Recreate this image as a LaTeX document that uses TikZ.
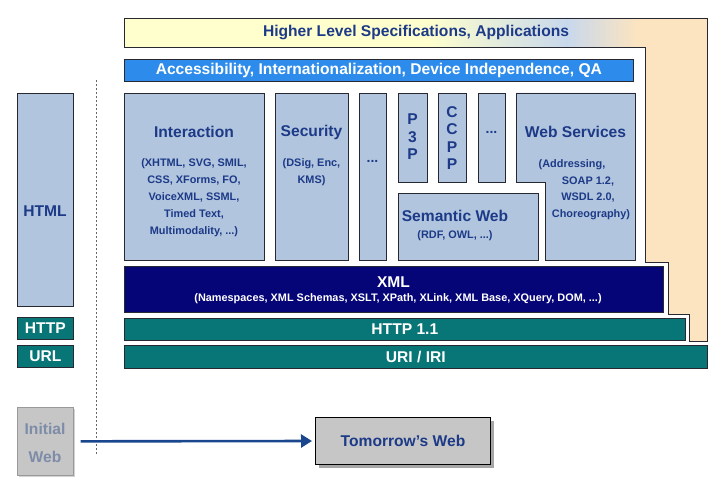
\documentclass[tikz,border=0pt]{standalone}
\usepackage{fontspec}
\setmainfont{Liberation Sans}
\usetikzlibrary{shadows,arrows.meta}
\definecolor{steel}{RGB}{178,197,222}
\definecolor{dblue}{RGB}{28,58,135}
\definecolor{edgec}{RGB}{40,40,50}
\definecolor{accb}{RGB}{45,140,235}
\definecolor{navy2}{RGB}{5,5,120}
\definecolor{teal2}{RGB}{8,118,118}
\definecolor{peach}{RGB}{252,228,192}
\definecolor{yel}{RGB}{255,255,205}
\definecolor{lblue}{RGB}{200,216,236}
\definecolor{gray1}{RGB}{198,198,198}
\definecolor{gtext}{RGB}{125,140,168}
\definecolor{arrowc}{RGB}{25,70,140}
\pgfdeclarehorizontalshading{topgrad}{100bp}{color(0bp)=(yel); color(25bp)=(yel); color(51bp)=(yel); color(63bp)=(lblue); color(69bp)=(peach); color(100bp)=(peach)}
\tikzset{
  lbox/.style={draw=edgec, fill=steel, line width=0.7pt, inner sep=0pt, anchor=north west},
  tbox/.style={draw=edgec, fill=teal2, line width=0.7pt, inner sep=0pt, anchor=north west},
  ttl/.style={text=dblue, font=\fontsize{15.6}{17}\selectfont\bfseries, inner sep=0pt},
  sub/.style={text=dblue, font=\fontsize{10.9}{17}\selectfont\bfseries, align=center, inner sep=0pt},
  wttl/.style={text=white, font=\fontsize{15.6}{17}\selectfont\bfseries, inner sep=0pt},
  wsub/.style={text=white, font=\fontsize{10.9}{13}\selectfont\bfseries, inner sep=0pt},
  vlet/.style={text=dblue, font=\fontsize{15.6}{17.5}\selectfont\bfseries, align=center, inner sep=0pt},
  dots/.style={text=dblue, font=\fontsize{14}{14}\selectfont\bfseries, inner sep=0pt},
}
\begin{document}
\begin{tikzpicture}[x=1pt,y=-1pt]
\useasboundingbox (0,0) rectangle (719,500);
% top L-shaped band
\shade[shading=topgrad, draw=edgec, line width=0.8pt]
  (124,18) -- (707,18) -- (707,341) -- (689,341) -- (689,314) -- (668,314) -- (668,262) -- (645,262) -- (645,47) -- (124,47) -- cycle;
\node[wttl, text=dblue] (hls) at (416,33) {Higher Level Specifications, Applications};
% accessibility bar
\node[draw=edgec, fill=accb, line width=0.7pt, inner sep=0pt, anchor=north west, minimum width=509pt, minimum height=22pt] (acc) at (124,59) {};
\node[wttl] (acct) at (acc.center) {Accessibility, Internationalization, Device Independence, QA};
% row of boxes
\node[lbox, minimum width=140pt, minimum height=167pt] (inter) at (124,93) {};
\node[ttl] (intert) at (194,132) {Interaction};
\node[sub] (inters) at (194,197.5) {(XHTML, SVG, SMIL,\\CSS, XForms, FO,\\VoiceXML, SSML,\\Timed Text,\\Multimodality, ...)};
\node[lbox, minimum width=73pt, minimum height=167pt] (sec) at (275,93) {};
\node[ttl] (sect) at (311.5,132) {Security};
\node[sub] (secs) at (311.5,172) {(DSig, Enc,\\KMS)};
\node[lbox, minimum width=27pt, minimum height=167pt] (dots1) at (359,93) {};
\node[dots] (dots1t) at (372.5,161) {...};
\node[lbox, minimum width=29pt, minimum height=89pt] (p3p) at (398,93) {};
\node[vlet] (p3pt) at (412.5,137) {P\\3\\P};
\node[lbox, minimum width=28pt, minimum height=89pt] (ccpp) at (438,93) {};
\node[vlet] (ccppt) at (452,138) {C\\C\\P\\P};
\node[lbox, minimum width=27pt, minimum height=89pt] (dots2) at (478,93) {};
\node[dots] (dots2t) at (491.5,132) {...};
\node[lbox, minimum width=140pt, minimum height=67pt] (sem) at (398,193) {};
\node[ttl] (semt) at (455,216) {Semantic Web};
\node[sub] (sems) at (455,236) {(RDF, OWL, ...)};
\draw[draw=edgec, fill=steel, line width=0.7pt] (516,93) -- (635,93) -- (635,260) -- (545,260) -- (545,182) -- (516,182) -- cycle;
\node[ttl] (wst) at (575.5,132) {Web Services};
\node[sub] (ws1) at (572,165) {(Addressing,};
\node[sub] (ws2) at (588,181.5) {SOAP 1.2,};
\node[sub] (ws3) at (588,198) {WSDL 2.0,};
\node[sub] (ws4) at (591,214.5) {Choreography)};
% XML, HTTP, URI
\node[draw=edgec, fill=navy2, line width=0.7pt, inner sep=0pt, anchor=north west, minimum width=539pt, minimum height=46pt] (xml) at (124,266) {};
\node[wttl] (xmlt) at (393.5,282) {XML};
\node[wsub] (xmls) at (398,299) {(Namespaces, XML Schemas, XSLT, XPath, XLink, XML Base, XQuery, DOM, ...)};
\node[tbox, minimum width=561pt, minimum height=22pt] (http) at (124,318) {};
\node[wttl] (httpt) at (http.center) {HTTP 1.1};
\node[tbox, minimum width=583pt, minimum height=23pt] (uri) at (124,345) {};
\node[wttl] (urit) at (uri.center) {URI / IRI};
% left column
\node[lbox, minimum width=56pt, minimum height=213pt] (html) at (17,93) {};
\node[ttl] (htmlt) at (45,211) {HTML};
\node[tbox, minimum width=56pt, minimum height=22pt] (lhttp) at (17,317) {};
\node[wttl] (lhttpt) at (lhttp.center) {HTTP};
\node[tbox, minimum width=56pt, minimum height=22pt] (lurl) at (17,345) {};
\node[wttl] (lurlt) at (lurl.center) {URL};
% divider
\draw[gray!80!black, line width=0.6pt, dash pattern=on 2pt off 2pt] (96,80) -- (96,455);
% bottom
\node[draw=gray!80, fill=gray1, line width=0.7pt, inner sep=0pt, anchor=north west, minimum width=56pt, minimum height=68pt, drop shadow={shadow xshift=2pt, shadow yshift=-2pt, opacity=0.35}] (initw) at (17,407) {};
\node[ttl, text=gtext, align=center, font=\fontsize{15.6}{28}\selectfont\bfseries] (initwt) at (45,443) {Initial\\Web};
\node[draw=black, fill=gray1, line width=1pt, inner sep=0pt, anchor=north west, minimum width=175pt, minimum height=47pt, drop shadow={shadow xshift=3pt, shadow yshift=-3pt, opacity=0.7}] (tomw) at (315,417) {};
\node[ttl] (tomwt) at (tomw.center) {Tomorrow's Web};
\draw[arrowc, line width=2.6pt, shorten <=7pt, shorten >=3pt, -{Triangle[length=11pt,width=13pt]}] (initw.east) -- (tomw.west);
\end{tikzpicture}
\end{document}
